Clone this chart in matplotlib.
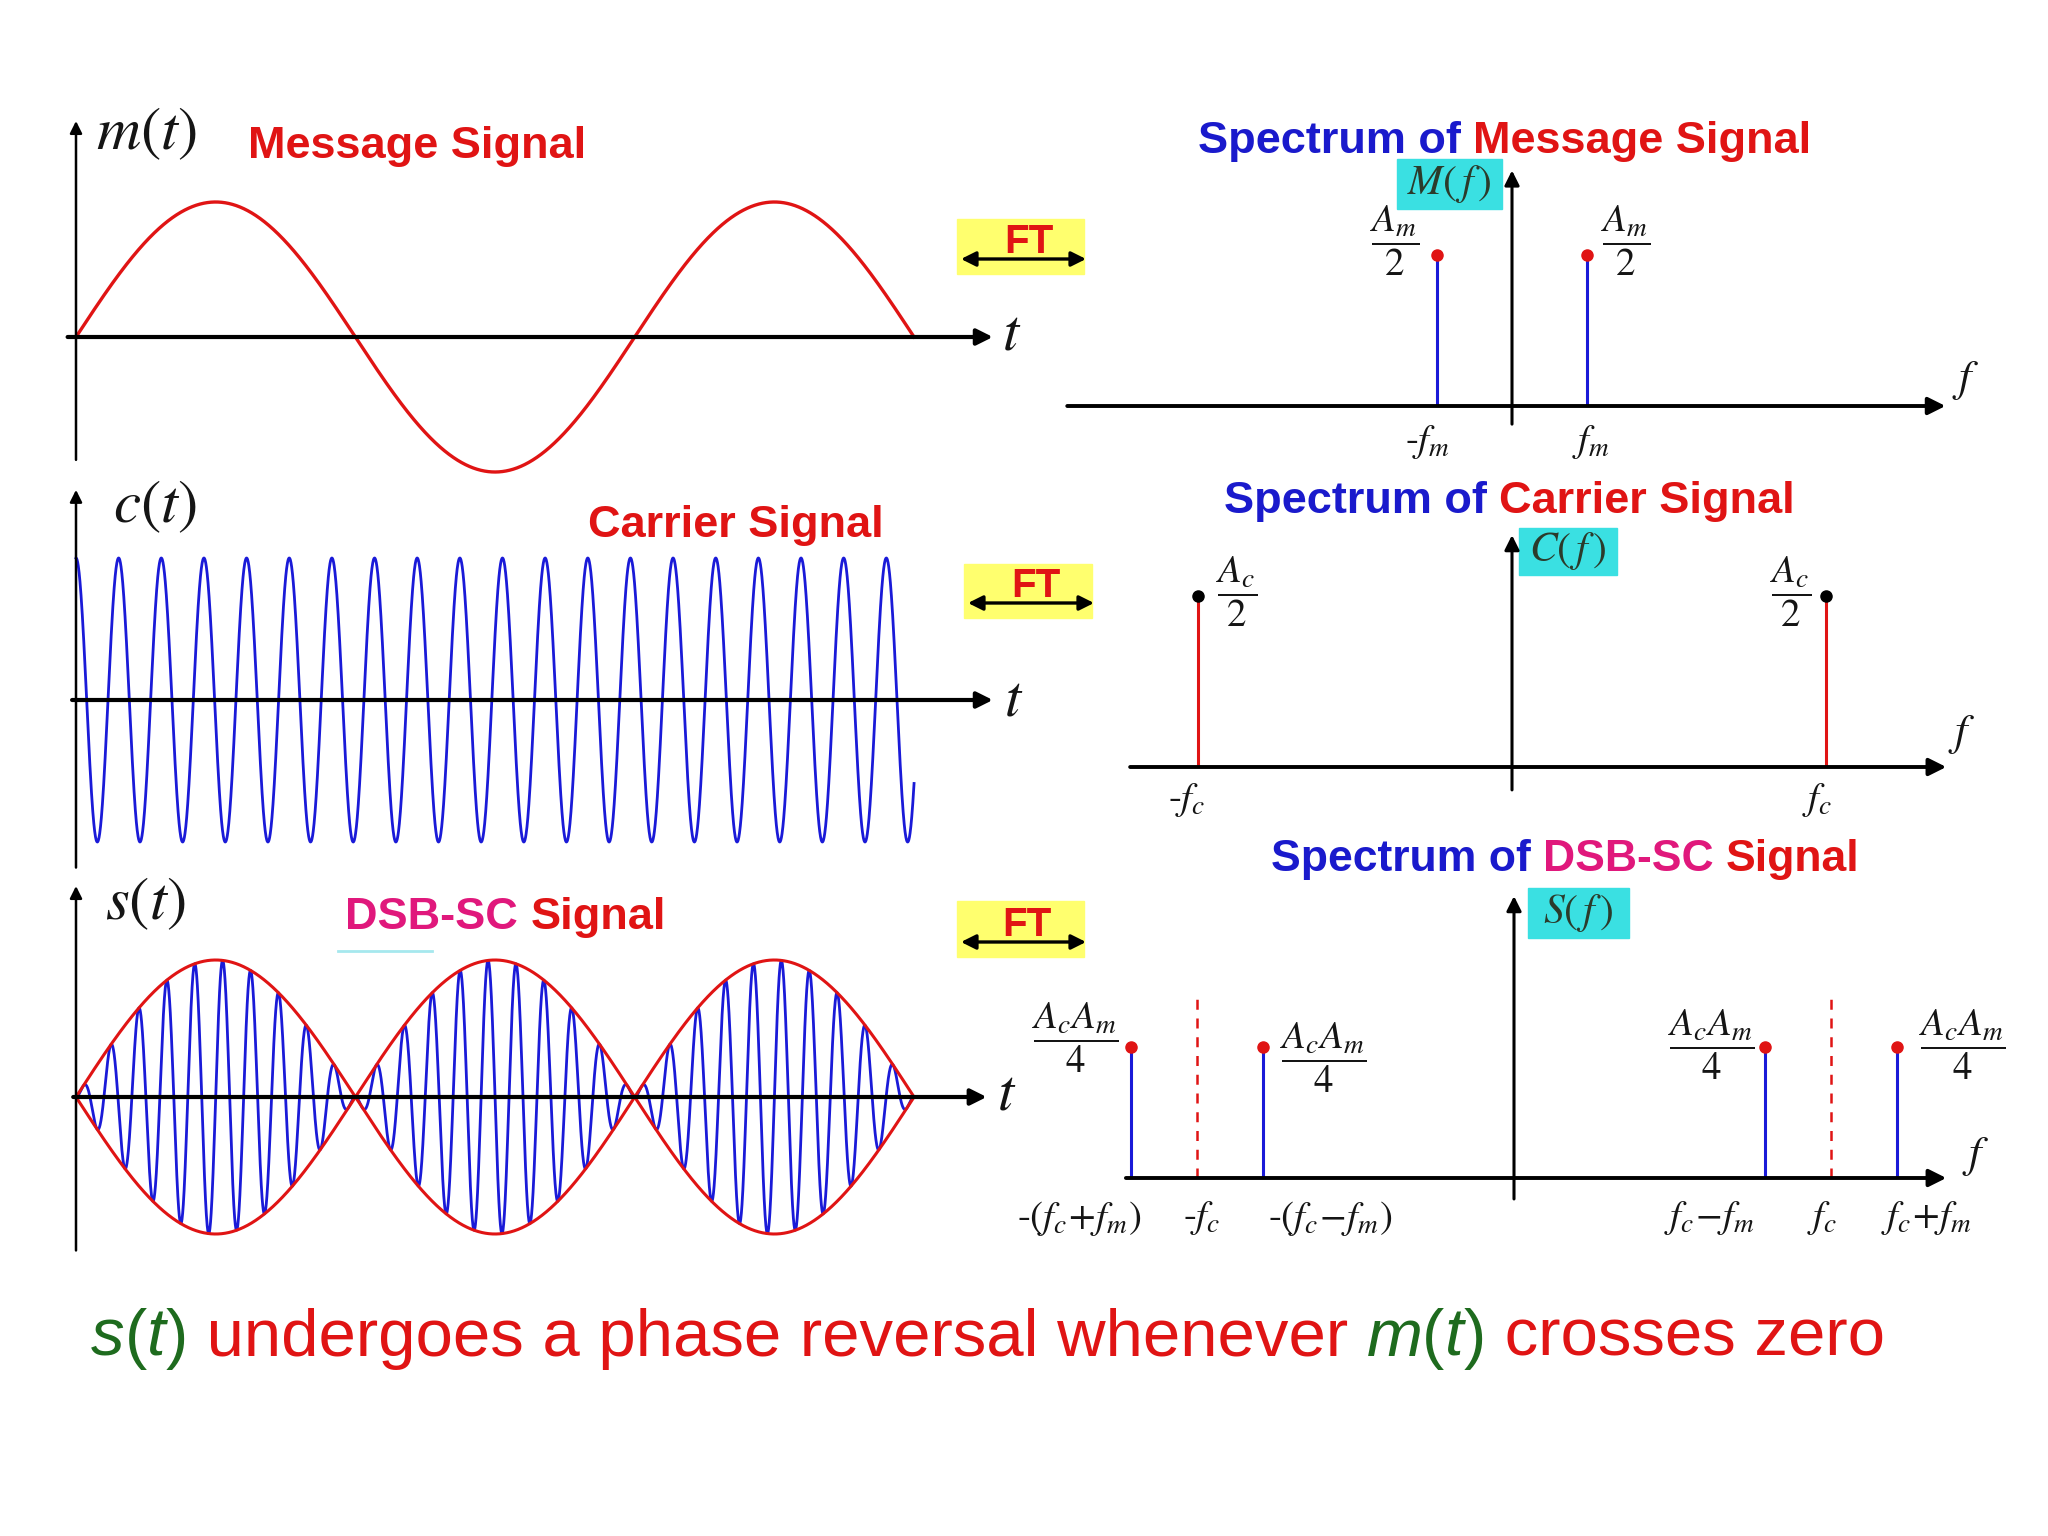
import numpy as np
import matplotlib
matplotlib.use('Agg')
import matplotlib.pyplot as plt
from matplotlib.patches import Rectangle

plt.rcParams['mathtext.fontset'] = 'stix'
plt.rcParams['font.family'] = ['Liberation Sans', 'DejaVu Sans']

W, H = 2048, 1536

# time domain (t in message periods)
t_span = 1.5
carrier_cycles = 13.1   # carrier cycles per message period, c(t)
dsb_cycles = 20         # carrier cycles per message period, s(t)

# spectra (f in units of f_m, A_m = A_c = 1)
msg_f = [-1.0, 1.0]
msg_a = [0.5, 0.5]
car_f = [-4.8, 4.8]
car_a = [0.5, 0.5]
dsb_f = [-5.8, -3.8, 3.8, 5.8]
dsb_a = [0.25, 0.25, 0.25, 0.25]
dsb_fc = [-4.8, 4.8]

msg_amp_lbl = [r'$\dfrac{A_m}{2}$', r'$\dfrac{A_m}{2}$']
msg_f_lbl = [r'-$f_m$', r'$f_m$']
car_amp_lbl = [r'$\dfrac{A_c}{2}$', r'$\dfrac{A_c}{2}$']
car_f_lbl = [r'-$f_c$', r'$f_c$']
dsb_amp_lbl = [r'$\dfrac{A_cA_m}{4}$'] * 4
dsb_f_lbl = [r'-$(f_c\!+\!f_m)$', r'-$(f_c\!-\!f_m)$', r'$f_c\!-\!f_m$', r'$f_c\!+\!f_m$']
dsb_fc_lbl = [r'-$f_c$', r'$f_c$']

RED = '#e01414'
BLUE = '#1a1ad8'
TBLUE = '#1a1acc'
MAG = '#e0187c'
GREEN = '#1e6b1e'
CYAN = '#3ae0e2'
YELLOW = '#ffff6e'
INK = '#151515'

fig = plt.figure(figsize=(W / 100, H / 100), dpi=100)
fig.patch.set_facecolor('white')

canvas = fig.add_axes([0, 0, 1, 1])
canvas.set_xlim(0, W)
canvas.set_ylim(H, 0)
canvas.axis('off')


def panel(cx, cy, sx, sy):
    # axes over the whole figure; data (0,0) sits at pixel (cx, cy)
    ax = fig.add_axes([0, 0, 1, 1])
    ax.set_xlim(-cx / sx, (W - cx) / sx)
    ax.set_ylim((cy - H) / sy, cy / sy)
    ax.axis('off')
    ax.patch.set_alpha(0)
    return ax


def arrow(ax, x0, y0, x1, y1, lw=2.5, ms=24, style='-|>'):
    ax.annotate('', xy=(x1, y1), xytext=(x0, y0), zorder=5,
                arrowprops=dict(arrowstyle=style, color='k', lw=lw,
                                mutation_scale=ms, shrinkA=0, shrinkB=0))


def chain(x, y, parts, size, weight='bold'):
    r = fig.canvas.get_renderer()
    for s, c, st in parts:
        tx = canvas.text(x, y, s, color=c, fontsize=size, fontweight=weight,
                         style=st, ha='left', va='baseline')
        x = tx.get_window_extent(renderer=r).x1


def ft_box(x, y, w, h, tx, ty, ay):
    canvas.add_patch(Rectangle((x, y), w, h, color=YELLOW, zorder=1))
    canvas.text(tx, ty, 'FT', color=RED, fontsize=29, fontweight='bold',
                ha='center', va='baseline', zorder=2)
    arrow(canvas, x + 4, ay, x + w + 2, ay, lw=2.4, ms=22, style='<|-|>')


def cyan_box(x, y, w, h, s):
    canvas.add_patch(Rectangle((x, y), w, h, color=CYAN, zorder=1))
    canvas.text(x + w / 2, y + h / 2, s, color='#2b3b2b', fontsize=30,
                ha='center', va='center', zorder=2)


t = np.linspace(0, t_span, 4000)
m = np.sin(2 * np.pi * t)
c = np.cos(2 * np.pi * carrier_cycles * t)
s = m * np.sin(2 * np.pi * dsb_cycles * t)

# ---- left column: time signals
ax_m = panel(76, 337, 558.7, 135)
ax_m.plot(t, m, color=RED, lw=2.4, zorder=3)
arrow(ax_m, -0.015, 0, 1.641, 0, lw=3)
arrow(ax_m, 0, -0.91, 0, 1.6, lw=1.8, ms=18)

ax_c = panel(76, 700, 558.7, 142)
ax_c.plot(t, c, color=BLUE, lw=2, zorder=3)
arrow(ax_c, -0.007, 0, 1.641, 0, lw=3)
arrow(ax_c, 0, -1.18, 0, 1.48, lw=1.8, ms=18)

ax_s = panel(76, 1097, 558.7, 137)
ax_s.plot(t, s, color=BLUE, lw=2, zorder=3)
ax_s.plot(t, m, color=RED, lw=2.2, zorder=4)
ax_s.plot(t, -m, color=RED, lw=2.2, zorder=4)
arrow(ax_s, -0.005, 0, 1.63, 0, lw=3)
arrow(ax_s, 0, -1.12, 0, 1.54, lw=1.8, ms=18)

canvas.text(96, 134, r'$m(t)$', fontsize=44, color=INK, ha='left', va='center')
canvas.text(113, 507, r'$c(t)$', fontsize=44, color=INK, ha='left', va='center')
canvas.text(105, 904, r'$s(t)$', fontsize=44, color=INK, ha='left', va='center')
for x, y in [(1002, 334), (1004, 701), (997, 1094)]:
    canvas.text(x, y, r'$t$', fontsize=42, color=INK, ha='left', va='center')

chain(248, 158, [('Message Signal', RED, 'normal')], 32.5)
chain(588, 537, [('Carrier Signal', RED, 'normal')], 32.5)
chain(345, 929, [('DSB-SC ', MAG, 'normal'), ('Signal', RED, 'normal')], 32.5)
canvas.plot([338, 432], [951, 951], color='#a6e8ee', lw=2)

ft_box(957, 219, 127, 55, 1029, 253, 259)
ft_box(964, 564, 128, 54, 1036, 597, 603)
ft_box(957, 901, 127, 56, 1027, 936, 942)

# ---- right column: spectra
chain(1198, 153, [('Spectrum of ', TBLUE, 'normal'), ('Message Signal', RED, 'normal')], 32.5)
chain(1224, 513, [('Spectrum of ', TBLUE, 'normal'), ('Carrier Signal', RED, 'normal')], 32.5)
chain(1271, 871, [('Spectrum of ', TBLUE, 'normal'), ('DSB-SC ', MAG, 'normal'),
                  ('Signal', RED, 'normal')], 32)

cyan_box(1397, 159, 105, 50, r'$M(\,f\,)$')
cyan_box(1519, 528, 98, 47, r'$C(\,f\,)$')
cyan_box(1528, 888, 101, 50, r'$S(\,f\,)$')


def lbl(ax, x, y, s, dx, dy, size=28):
    ax.annotate(s, xy=(x, y), xytext=(dx, dy), textcoords='offset pixels',
                ha='center', va='center', fontsize=size, color=INK,
                family='STIXGeneral', zorder=6)


# message spectrum
ax_fm = panel(1512, 406, 75, 302)
arrow(ax_fm, -5.93, 0, 5.78, 0, lw=2.8, ms=26)
arrow(ax_fm, 0, -0.06, 0, 0.78, lw=2.2, ms=22)
ax_fm.vlines(msg_f, 0, msg_a, color=BLUE, lw=2.2, zorder=3)
ax_fm.plot(msg_f, msg_a, 'o', color=RED, ms=8, zorder=4)
for f, a, al, fl, dx, fdx in zip(msg_f, msg_a, msg_amp_lbl, msg_f_lbl, [-42, 39], [-10, 4]):
    lbl(ax_fm, f, a, al, dx, 14)
    lbl(ax_fm, f, 0, fl, fdx, -36)
canvas.text(1952, 380, r'$f$', fontsize=32, color=INK, ha='left', va='center')

# carrier spectrum
ax_fc = panel(1512, 767, 65.5, 342)
arrow(ax_fc, -5.83, 0, 6.63, 0, lw=2.8, ms=26)
arrow(ax_fc, 0, -0.067, 0, 0.678, lw=2.2, ms=22)
ax_fc.vlines(car_f, 0, car_a, color=RED, lw=2.2, zorder=3)
ax_fc.plot(car_f, car_a, 'o', color='k', ms=8, zorder=4)
for f, a, al, fl, dx, fdx in zip(car_f, car_a, car_amp_lbl, car_f_lbl, [39, -36], [-11, -9]):
    lbl(ax_fc, f, a, al, dx, 4)
    lbl(ax_fc, f, 0, fl, fdx, -33)
canvas.text(1948, 734, r'$f$', fontsize=32, color=INK, ha='left', va='center')

# DSB-SC spectrum
ax_fs = panel(1514, 1178, 66, 524)
arrow(ax_fs, -5.88, 0, 6.55, 0, lw=2.8, ms=26)
arrow(ax_fs, 0, -0.04, 0, 0.538, lw=2.2, ms=22)
ax_fs.vlines(dsb_fc, 0, 0.353, color=RED, lw=1.8, linestyles=(0, (4, 3.5)), zorder=3)
ax_fs.vlines(dsb_f, 0, dsb_a, color=BLUE, lw=2.2, zorder=3)
ax_fs.plot(dsb_f, dsb_a, 'o', color=RED, ms=8, zorder=4)
amp_off = [(-56, 9), (60, -11), (-53, 2), (66, 2)]
f_off = [-52, 67, -55, 30]
for f, a, al, fl, (dx, dy), fdx in zip(dsb_f, dsb_a, dsb_amp_lbl, dsb_f_lbl, amp_off, f_off):
    lbl(ax_fs, f, a, al, dx, dy)
    lbl(ax_fs, f, 0, fl, fdx, -40)
for f, fl, fdx in zip(dsb_fc, dsb_fc_lbl, [4, -9]):
    lbl(ax_fs, f, 0, fl, fdx, -40)
canvas.text(1962, 1156, r'$f$', fontsize=32, color=INK, ha='left', va='center')

# ---- caption
chain(91, 1356, [('s', GREEN, 'italic'), ('(', GREEN, 'normal'), ('t', GREEN, 'italic'),
                 (')', GREEN, 'normal'),
                 (' undergoes a phase reversal whenever ', RED, 'normal'),
                 ('m', GREEN, 'italic'), ('(', GREEN, 'normal'), ('t', GREEN, 'italic'),
                 (')', GREEN, 'normal'), (' crosses zero', RED, 'normal')],
      48.3, weight='normal')

fig.savefig('out.png', dpi=100, facecolor='white')
